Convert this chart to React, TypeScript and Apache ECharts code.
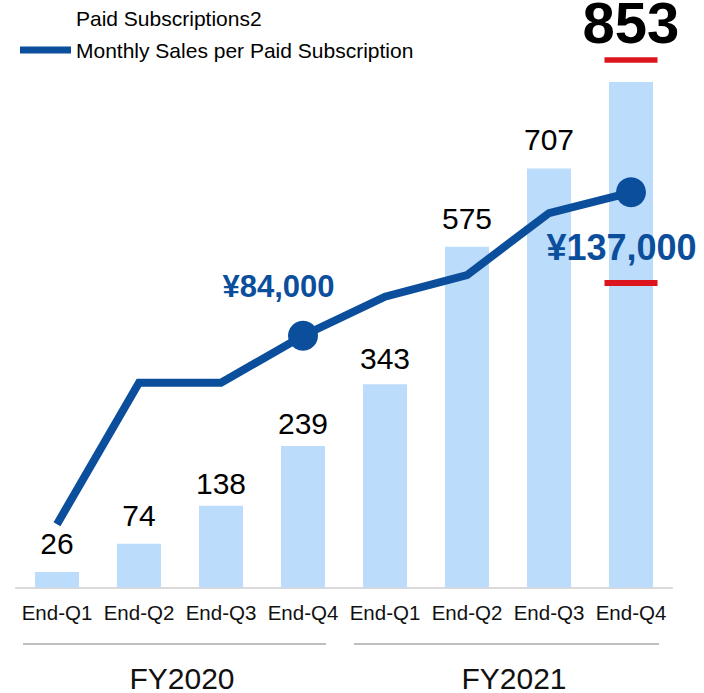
import React, { useEffect, useRef } from 'react';
import * as echarts from 'echarts';

// ---------- data ----------
const categories = ['End-Q1', 'End-Q2', 'End-Q3', 'End-Q4', 'End-Q1', 'End-Q2', 'End-Q3', 'End-Q4'];
const fiscalYears = ['FY2020', 'FY2021'];
const paidSubscriptions = [26, 74, 138, 239, 343, 575, 707, 853];
const monthlySales = [14400, 66600, 66600, 84000, 98400, 106400, 129300, 137000];
const labeledSalesPoints = [3, 7];
const highlightedBar = 7;

// ---------- styles ----------
const FONT = '"Liberation Sans", Arial, Helvetica, sans-serif';
const BAR_COLOR = '#BCDCFB';
const LINE_COLOR = '#0B4F9C';
const RED = '#DC141E';
const GREY_LINE = '#BFBFBF';
const BAR_LABEL_DISTANCE = [14, 13.4, 7, 7, 10.4, 13, 13.7, 39];
const SALES_LABEL_STYLE: Record<number, { offset: number[]; fontSize: number }> = {
  3: { offset: [-24.5, -49.3], fontSize: 31 },
  7: { offset: [-9.5, 55.3], fontSize: 36 },
};

export default function App() {
  const ref = useRef<HTMLDivElement>(null);

  useEffect(() => {
    document.body.style.margin = '0';
    document.documentElement.style.margin = '0';
    const chart = echarts.init(ref.current!, null, { renderer: 'svg' });

    const option: any = {
      animation: false,
      backgroundColor: '#ffffff',
      textStyle: { fontFamily: FONT },
      legend: {
        orient: 'vertical',
        left: 20,
        top: 7.5,
        padding: 0,
        itemGap: 11,
        itemWidth: 51,
        itemHeight: 7,
        selectedMode: false,
        textStyle: { fontSize: 21, color: '#000', fontFamily: FONT },
        data: [
          { name: 'Paid Subscriptions2', icon: 'rect', itemStyle: { color: 'rgba(0,0,0,0)' } },
          { name: 'Monthly Sales per Paid Subscription', icon: 'rect', itemStyle: { color: LINE_COLOR } },
        ],
      },
      grid: { left: 16, right: 32, top: 54.2, bottom: 105.5 },
      xAxis: [
        {
          type: 'category',
          data: categories,
          boundaryGap: true,
          axisLine: { lineStyle: { color: '#D9D9D9', width: 2 } },
          axisTick: { show: false },
          axisLabel: { fontSize: 20.5, color: '#111', margin: 14.75, fontFamily: FONT, interval: 0 },
        },
        {
          type: 'category',
          position: 'bottom',
          offset: 67.5,
          data: fiscalYears.map((v, i) => ({
            value: v,
            textStyle: { padding: i === 0 ? [0, 0, 0, 4] : [0, 0, 0, 12] },
          })),
          axisLine: { show: false },
          axisTick: { show: false },
          axisLabel: { fontSize: 30, color: '#111', margin: 8, fontFamily: FONT, interval: 0 },
        },
      ],
      yAxis: [
        { type: 'value', min: 0, max: 900, show: false },
        { type: 'value', min: -9000, max: 188000, show: false },
      ],
      series: [
        {
          type: 'bar',
          name: 'Paid Subscriptions2',
          xAxisIndex: 0,
          yAxisIndex: 0,
          barWidth: 44,
          itemStyle: { color: BAR_COLOR },
          label: {
            show: true,
            position: 'top',
            fontSize: 30,
            color: '#000',
            fontFamily: FONT,
          },
          data: paidSubscriptions.map((v, i) => ({
            value: v,
            label:
              i === highlightedBar
                ? {
                    distance: BAR_LABEL_DISTANCE[i],
                    fontSize: 58,
                    lineHeight: 42,
                    fontWeight: 'bold',
                    color: '#000',
                  }
                : { distance: BAR_LABEL_DISTANCE[i] },
          })),
          z: 2,
        },
        {
          type: 'line',
          name: 'Monthly Sales per Paid Subscription',
          xAxisIndex: 0,
          yAxisIndex: 1,
          symbol: 'circle',
          symbolSize: 0,
          showSymbol: true,
          showAllSymbol: true,
          lineStyle: { color: LINE_COLOR, width: 8, cap: 'butt', join: 'miter' },
          itemStyle: { color: LINE_COLOR },
          label: { show: false },
          data: monthlySales.map((v, i) =>
            labeledSalesPoints.includes(i)
              ? {
                  value: v,
                  symbolSize: 30,
                  label: {
                    show: true,
                    position: 'inside',
                    offset: SALES_LABEL_STYLE[i].offset,
                    fontSize: SALES_LABEL_STYLE[i].fontSize,
                    fontWeight: 'bold',
                    color: LINE_COLOR,
                    textBorderWidth: 0,
                    fontFamily: FONT,
                    formatter: (p: any) => '¥' + Number(p.value).toLocaleString('en-US'),
                  },
                }
              : { value: v }
          ),
          z: 3,
        },
      ],
    };

    chart.setOption(option);

    const px = (i: number, v: number, yIdx: number) =>
      chart.convertToPixel({ xAxisIndex: 0, yAxisIndex: yIdx } as any, [i, v]) as number[];

    const p0 = px(0, 0, 0);
    const p1 = px(1, 0, 0);
    const band = p1[0] - p0[0];
    const baseY = p0[1];
    const groupY = baseY + 56.5;
    const g1l = px(0, 0, 0)[0] - band / 2 + 7;
    const g1r = px(3, 0, 0)[0] + band / 2 - 18;
    const g2l = px(4, 0, 0)[0] - band / 2 + 10;
    const g2r = px(7, 0, 0)[0] + band / 2 - 13;

    const barTop = px(highlightedBar, paidSubscriptions[highlightedBar], 0);
    const salesPt = px(7, monthlySales[7], 1);
    const redW = 53;

    chart.setOption({
      graphic: [
        { type: 'line', z: 100, shape: { x1: g1l, y1: groupY, x2: g1r, y2: groupY }, style: { stroke: GREY_LINE, lineWidth: 2 } },
        { type: 'line', z: 100, shape: { x1: g2l, y1: groupY, x2: g2r, y2: groupY }, style: { stroke: GREY_LINE, lineWidth: 2 } },
        {
          type: 'rect',
          z: 100,
          shape: { x: barTop[0] - redW / 2, y: barTop[1] - 24.8, width: redW, height: 5.5 },
          style: { fill: RED },
        },
        {
          type: 'rect',
          z: 100,
          shape: { x: salesPt[0] - redW / 2, y: salesPt[1] + 87.8, width: redW, height: 6 },
          style: { fill: RED },
        },
      ],
    });

    return () => chart.dispose();
  }, []);

  return <div ref={ref} style={{ width: 704, height: 693 }} />;
}
